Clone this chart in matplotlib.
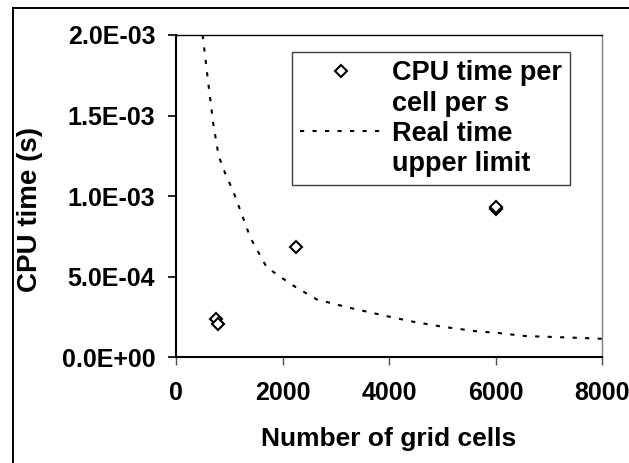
import matplotlib
matplotlib.use('Agg')
import matplotlib.pyplot as plt
from matplotlib.lines import Line2D
from matplotlib.ticker import FuncFormatter

# measured CPU time per cell per s
cells = [760, 790, 2250, 6000, 6000]
cpu_time = [2.4e-4, 2.05e-4, 6.83e-4, 9.2e-4, 9.3e-4]

# real time upper limit
limit_cells = [500, 550, 625, 700, 800, 925, 1075, 1400, 1700, 2000, 2250, 2650,
               3250, 3950, 4450, 5000, 5700, 6000, 6550, 7450, 8000]
limit_time = [2.0e-3, 1.86e-3, 1.65e-3, 1.45e-3, 1.25e-3, 1.14e-3, 1.03e-3, 7.4e-4,
              5.6e-4, 4.9e-4, 4.35e-4, 3.58e-4, 3.08e-4, 2.56e-4, 2.21e-4, 1.9e-4,
              1.59e-4, 1.53e-4, 1.32e-4, 1.22e-4, 1.15e-4]

x_ticks = [0, 2000, 4000, 6000, 8000]
y_ticks = [0, 5e-4, 1e-3, 1.5e-3, 2e-3]

plt.rcParams['font.family'] = ['Liberation Sans', 'DejaVu Sans']
plt.rcParams['font.weight'] = 'bold'

W, H = 629, 463
fig = plt.figure(figsize=(W / 100, H / 100), dpi=100)
fig.patch.set_facecolor('white')

# outer chart border, only its left and top edges fall inside the picture
bx, by = 12.5 / W, 1 - 7.5 / H
fig.add_artist(Line2D([bx, bx], [0, by], transform=fig.transFigure,
                      color='black', linewidth=1.4))
fig.add_artist(Line2D([bx, 1], [by, by], transform=fig.transFigure,
                      color='black', linewidth=1.4))

left, right, top, bottom = 176, 602, 35, 357.3
ax = fig.add_axes([left / W, 1 - bottom / H, (right - left) / W, (bottom - top) / H])

ax.plot(limit_cells, limit_time, color='black', linewidth=1.5,
        linestyle=(0, (2, 4)), zorder=2)
ax.plot(cells, cpu_time, linestyle='none', marker='D', markersize=6.5,
        markerfacecolor='white', markeredgecolor='black', markeredgewidth=1.5, zorder=3)

ax.set_xlim(0, 8000)
ax.set_ylim(0, 2e-3)
ax.set_xticks(x_ticks)
ax.set_yticks(y_ticks)
ax.yaxis.set_major_formatter(FuncFormatter(lambda v, p: f'{v:.1E}'))
ax.tick_params(axis='y', direction='out', length=6, width=1.2, color='black',
               pad=9, labelsize=18)
ax.tick_params(axis='x', direction='out', length=6, width=1.0, color='#505050',
               pad=11, labelsize=18)

for s in ['left', 'bottom']:
    ax.spines[s].set_linewidth(1.5)
    ax.spines[s].set_color('black')
ax.spines['top'].set_linewidth(1.0)
ax.spines['top'].set_color('black')
ax.spines['right'].set_linewidth(1.0)
ax.spines['right'].set_color('#808080')

ax.set_xlabel('Number of grid cells', fontsize=19, fontweight='bold')
ax.set_ylabel('CPU time (s)', fontsize=20, fontweight='bold')
ax.xaxis.set_label_coords(0.5, -0.215)
ax.yaxis.set_label_coords(-0.312, 0.46)

# legend with the symbol next to the first line of each two-line label
blank = Line2D([], [], linestyle='none')
diamond = Line2D([], [], linestyle='none', marker='D', markersize=6.5,
                 markerfacecolor='white', markeredgecolor='black', markeredgewidth=1.5)
dashed = Line2D([], [], color='black', linewidth=1.5, linestyle=(0, (2, 4)))
leg = ax.legend([diamond, blank, dashed, blank],
                ['CPU time per', 'cell per s', 'Real time', 'upper limit'],
                loc='upper left', bbox_to_anchor=(0.272, 0.947), borderaxespad=0,
                prop={'size': 19.5, 'weight': 'bold'}, handlelength=3.0,
                handletextpad=0.4, borderpad=0.3, labelspacing=0.16,
                fancybox=False, framealpha=1, edgecolor='#404040')
leg.get_frame().set_linewidth(1.0)

fig.savefig('out.png', dpi=100)
